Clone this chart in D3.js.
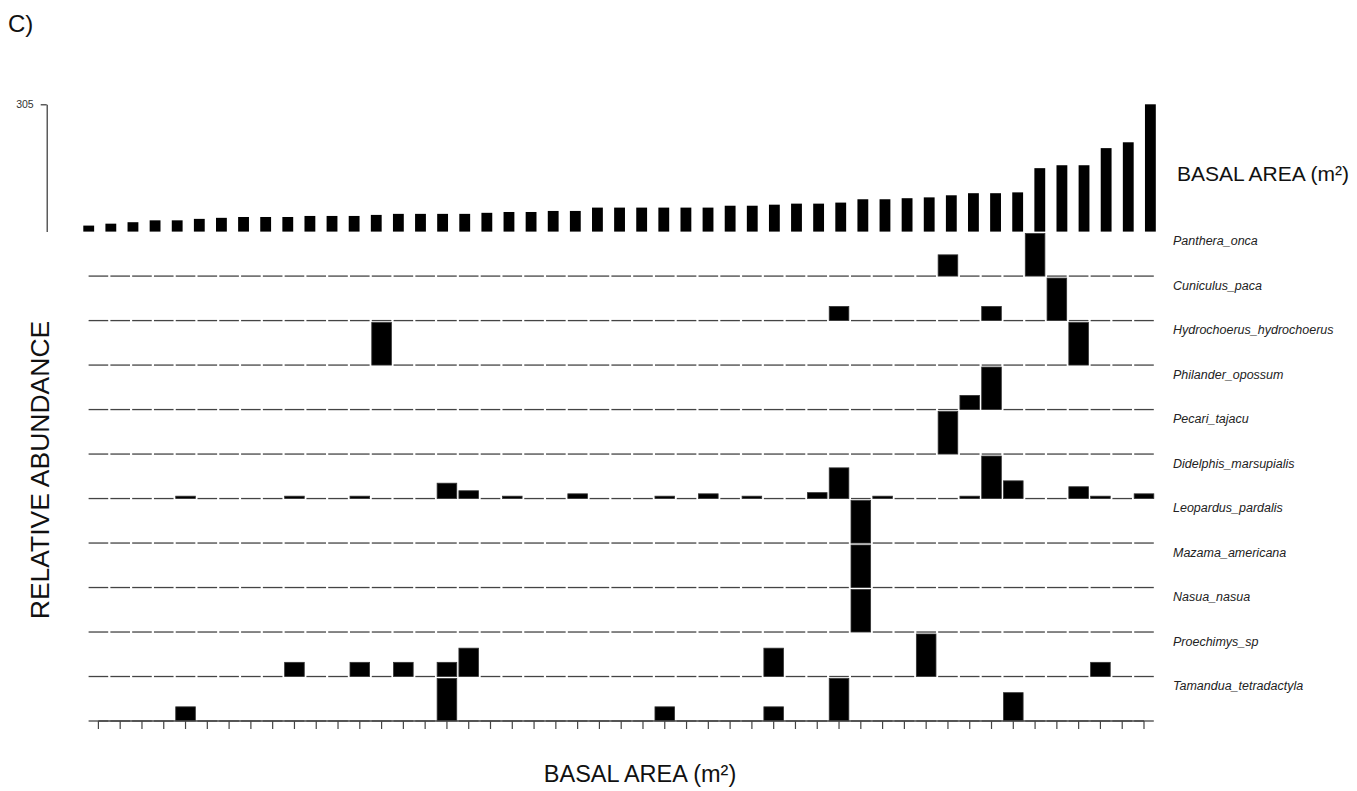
<!DOCTYPE html>
<html>
<head>
<meta charset="utf-8">
<script src="https://cdn.jsdelivr.net/npm/d3@7/dist/d3.min.js"></script>
<style>
  html, body { margin: 0; padding: 0; background: #fff; }
  svg { display: block; font-family: "Liberation Sans", Arial, sans-serif; }
</style>
</head>
<body>
<svg id="chart" width="1357" height="791"></svg>
<script>
// Basal area (m²) of the 49 plots, sorted ascending
const basalArea = [
  14.4, 19, 22.5, 27, 27, 30.5, 33, 35, 35, 35,
  37.5, 37.5, 37.5, 40, 42.5, 42.5, 42.5, 42.5, 45, 47,
  47, 49.5, 49.5, 57.5, 57.5, 57.5, 57.5, 57.5, 57.5, 62,
  62, 64.5, 67, 67, 69.5, 77.5, 77.5, 80, 82, 87,
  92, 92, 94, 152, 159, 159, 200, 214, 305
];
const basalTicks = [305];

// Species, top to bottom
const species = [
  "Panthera_onca", "Cuniculus_paca", "Hydrochoerus_hydrochoerus",
  "Philander_opossum", "Pecari_tajacu", "Didelphis_marsupialis",
  "Leopardus_pardalis", "Mazama_americana", "Nasua_nasua",
  "Proechimys_sp", "Tamandua_tetradactyla"
];

// Records per species as [plot number, abundance]
const pantheraOnca = [[40, 1], [44, 2]];
const cuniculusPaca = [[35, 1], [42, 1], [45, 3]];
const hydrochoerusHydrochoerus = [[14, 1], [46, 1]];
const philanderOpossum = [[41, 1], [42, 3]];
const pecariTajacu = [[40, 1]];
const didelphisMarsupialis = [
  [5, 1], [10, 1], [13, 1], [17, 6.5], [18, 3.3], [20, 1], [23, 2],
  [27, 1], [29, 2], [31, 1], [34, 2.5], [35, 13], [37, 1], [41, 1],
  [42, 18], [43, 7.5], [46, 5], [47, 1], [49, 2]
];
const leopardusPardalis = [[36, 1]];
const mazamaAmericana = [[36, 1]];
const nasuaNasua = [[36, 1]];
const proechimysSp = [[10, 1], [13, 1], [15, 1], [17, 1], [18, 2], [32, 2], [39, 3], [47, 1]];
const tamanduaTetradactyla = [[5, 1], [17, 3], [27, 1], [32, 1], [35, 3], [43, 2]];

const records = [
  pantheraOnca, cuniculusPaca, hydrochoerusHydrochoerus, philanderOpossum,
  pecariTajacu, didelphisMarsupialis, leopardusPardalis, mazamaAmericana,
  nasuaNasua, proechimysSp, tamanduaTetradactyla
];

const nPlots = basalArea.length;
const plots = d3.range(1, nPlots + 1);

const svg = d3.select("#chart");

// ---- scales ----
const xTop = d3.scaleBand().domain(plots).range([83.3, 1155.8]).paddingInner(0.51).paddingOuter(0);
const xSp = d3.scaleBand().domain(plots).range([88.6, 1153.8]).paddingInner(0.1).paddingOuter(0);

const topBase = 231.6, topMax = 104.3;
const yTop = d3.scaleLinear().domain([0, d3.max(basalArea)]).range([topBase, topMax]);

const rowBottom = 721;
const yRow = d3.scaleBand().domain(species).range([topBase, rowBottom]).padding(0);
const barMax = 42.5;

// ---- basal area panel ----
svg.append("g")
  .selectAll("rect")
  .data(basalArea.map((v, i) => ({ plot: plots[i], v })))
  .join("rect")
  .attr("x", d => xTop(d.plot))
  .attr("width", xTop.bandwidth())
  .attr("y", d => yTop(d.v))
  .attr("height", d => topBase - yTop(d.v))
  .attr("fill", "#000");

const yAxis = d3.axisLeft(yTop).tickValues(basalTicks).tickSize(6).tickSizeOuter(0);
const gY = svg.append("g").attr("transform", "translate(46.7,0)").call(yAxis);
gY.select(".domain").attr("stroke", "#333").attr("stroke-width", 1.2);
gY.selectAll(".tick line").attr("stroke", "#333").attr("stroke-width", 1.2);
gY.selectAll(".tick text")
  .attr("x", -13)
  .attr("font-size", 10.5)
  .attr("fill", "#333")
  .attr("font-family", "Liberation Sans, Arial, sans-serif");

svg.append("text")
  .attr("x", 1177)
  .attr("y", 181)
  .attr("font-size", 21)
  .attr("fill", "#111")
  .text("BASAL AREA (m\u00B2)");

// ---- species rows ----
species.forEach((sp, si) => {
  const base = yRow(sp) + yRow.bandwidth();
  const values = new Map(records[si]);
  const maxV = d3.max(records[si], d => d[1]);
  const h = d3.scaleLinear().domain([0, maxV]).range([0, barMax]);
  const g = svg.append("g").attr("class", "row");

  // zero-height bars appear as short dashes along the row baseline
  g.selectAll("line.zero")
    .data(plots.filter(p => !values.has(p)))
    .join("line")
    .attr("class", "zero")
    .attr("x1", p => xSp(p))
    .attr("x2", p => xSp(p) + xSp.bandwidth())
    .attr("y1", base)
    .attr("y2", base)
    .attr("stroke", "#444")
    .attr("stroke-width", 1.3);

  g.selectAll("rect")
    .data(records[si])
    .join("rect")
    .attr("x", d => xSp(d[0]))
    .attr("width", xSp.bandwidth())
    .attr("y", d => base - h(d[1]))
    .attr("height", d => h(d[1]))
    .attr("fill", "#000")
    .attr("stroke", "#333")
    .attr("stroke-width", 0.8);

  svg.append("text")
    .attr("x", 1173)
    .attr("y", yRow(sp) + 13.5)
    .attr("font-size", 12.5)
    .attr("font-style", "italic")
    .attr("fill", "#222")
    .text(sp);
});

// ---- bottom axis ----
const xAxis = d3.axisBottom(xSp).tickSize(8).tickSizeOuter(0).tickFormat("");
const gX = svg.append("g").attr("transform", `translate(0,${rowBottom})`).call(xAxis);
gX.select(".domain").attr("stroke", "#444").attr("stroke-width", 1.3)
  .attr("d", `M${xSp(1) + xSp.bandwidth() / 2},0H${xSp(nPlots) + xSp.bandwidth() / 2}`);
gX.selectAll(".tick line").attr("stroke", "#444").attr("stroke-width", 1.2);

svg.append("text")
  .attr("x", 640)
  .attr("y", 781.5)
  .attr("text-anchor", "middle")
  .attr("font-size", 23.5)
  .attr("fill", "#111")
  .text("BASAL AREA (m\u00B2)");

svg.append("text")
  .attr("transform", "translate(49,470) rotate(-90)")
  .attr("text-anchor", "middle")
  .attr("font-size", 26.5)
  .attr("fill", "#111")
  .text("RELATIVE ABUNDANCE");

svg.append("text")
  .attr("x", 8)
  .attr("y", 32)
  .attr("font-size", 24)
  .attr("fill", "#111")
  .text("C)");
</script>
</body>
</html>
